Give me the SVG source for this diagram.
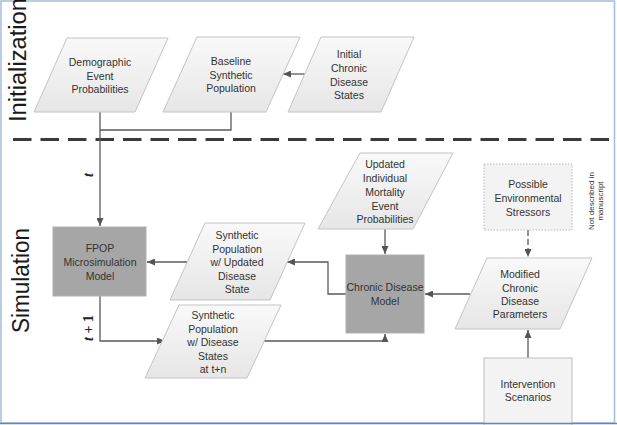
<svg xmlns="http://www.w3.org/2000/svg" width="617" height="425" viewBox="0 0 617 425">
<defs>
<linearGradient id="pg" x1="0" y1="0" x2="0" y2="1">
<stop offset="0" stop-color="#f9f9f9"/>
<stop offset="1" stop-color="#e6e6e6"/>
</linearGradient>
<marker id="ah" markerUnits="userSpaceOnUse" markerWidth="8" markerHeight="7" refX="8" refY="3.5" orient="auto">
<path d="M0,0 L8,3.5 L0,7 z" fill="#555"/>
</marker>
</defs>
<style>
.para{fill:url(#pg);stroke:#c4c4c4;stroke-width:1}
.box{fill:#a6a6a6;stroke:#b0b0b0;stroke-width:1}
.lbox{fill:#f3f3f3;stroke:#c0c0c0;stroke-width:1}
.dbox{fill:#f3f3f3;stroke:#b8b8b8;stroke-width:1;stroke-dasharray:1.5 1.5}
.t{font-family:"Liberation Sans",Arial,sans-serif;font-size:10.5px;fill:#333333;text-anchor:middle}
.big{font-family:"Liberation Sans",Arial,sans-serif;font-size:23px;fill:#1a1a1a}
.c{fill:none;stroke:#5a5a5a;stroke-width:1.3}
.lab{font-family:"Liberation Serif","Times New Roman",serif;font-size:14px;font-weight:bold;fill:#222;text-anchor:middle}
</style>
<rect x="0" y="0" width="617" height="425" fill="#ffffff"/>
<rect x="1" y="1" width="613.5" height="422" fill="none" stroke="#a4bbdb" stroke-width="1.5"/>

<g id="section-labels">
<text class="big" transform="translate(26,122) rotate(-90)" textLength="124" lengthAdjust="spacingAndGlyphs">Initialization</text>
<text class="big" transform="translate(28.5,333) rotate(-90)" textLength="105" lengthAdjust="spacingAndGlyphs">Simulation</text>
</g>

<line id="divider" x1="13" y1="139.5" x2="617" y2="139.5" stroke="#3a3a3a" stroke-width="3" stroke-dasharray="18.5 9"/>

<g id="connectors">
<path class="c" d="M100,112 V226" marker-end="url(#ah)"/>
<path class="c" d="M100,130 H231 V112"/>
<path class="c" d="M305,74 H283" marker-end="url(#ah)"/>
<path class="c" d="M187,262 H147" marker-end="url(#ah)"/>
<path class="c" d="M346,294 H328 V262 H287" marker-end="url(#ah)"/>
<path class="c" d="M100,296 V341 H165" marker-end="url(#ah)"/>
<path class="c" d="M263,341 H385 V334" marker-end="url(#ah)"/>
<path class="c" d="M385,229 V254" marker-end="url(#ah)"/>
<path class="c" d="M470,294 H425" marker-end="url(#ah)"/>
<path class="c" d="M528,230 V257" stroke-dasharray="6 3" marker-end="url(#ah)"/>
<path class="c" d="M528,358 V330" marker-end="url(#ah)"/>
<text class="lab" transform="translate(93,175) rotate(-90)"><tspan font-style="italic">t</tspan></text>
<text class="lab" transform="translate(93,328) rotate(-90)"><tspan font-style="italic">t</tspan> + 1</text>
</g>

<g id="demographic">
<polygon class="para" points="67,38 168,38 135,112 34,112"/>
<text class="t"><tspan x="100" y="66">Demographic</tspan><tspan x="100" y="80">Event</tspan><tspan x="100" y="93">Probabilities</tspan></text>
</g>
<g id="baseline">
<polygon class="para" points="197,37 300,37 266,112 163,112"/>
<text class="t"><tspan x="231" y="65">Baseline</tspan><tspan x="231" y="78.5">Synthetic</tspan><tspan x="231" y="92">Population</tspan></text>
</g>
<g id="initial">
<polygon class="para" points="321,37 414,37 381,112 288,112"/>
<text class="t"><tspan x="349" y="58">Initial</tspan><tspan x="349" y="72">Chronic</tspan><tspan x="349" y="86">Disease</tspan><tspan x="349" y="99">States</tspan></text>
</g>
<g id="fpop">
<rect class="box" x="53" y="227" width="93" height="69"/>
<text class="t"><tspan x="100" y="252">FPOP</tspan><tspan x="100" y="266">Microsimulation</tspan><tspan x="100" y="280">Model</tspan></text>
</g>
<g id="synth-updated">
<polygon class="para" points="205,223 305,223 270,300 170,300"/>
<text class="t"><tspan x="237" y="239">Synthetic</tspan><tspan x="237" y="252.5">Population</tspan><tspan x="237" y="266">w/ Updated</tspan><tspan x="237" y="279.5">Disease</tspan><tspan x="237" y="293">State</tspan></text>
</g>
<g id="synth-tn">
<polygon class="para" points="179,305 281,305 247,378 145,378"/>
<text class="t"><tspan x="213" y="319">Synthetic</tspan><tspan x="213" y="332.5">Population</tspan><tspan x="213" y="346">w/ Disease</tspan><tspan x="213" y="359.5">States</tspan><tspan x="213" y="373">at t+n</tspan></text>
</g>
<g id="updated-mortality">
<polygon class="para" points="360,153 453,153 413,229 318,229"/>
<text class="t"><tspan x="385" y="168">Updated</tspan><tspan x="385" y="182">Individual</tspan><tspan x="385" y="196">Mortality</tspan><tspan x="385" y="209.5">Event</tspan><tspan x="385" y="223">Probabilities</tspan></text>
</g>
<g id="chronic-model">
<rect class="box" x="346" y="255" width="78" height="78"/>
<text class="t"><tspan x="385" y="291">Chronic Disease</tspan><tspan x="385" y="305">Model</tspan></text>
</g>
<g id="environmental">
<rect class="dbox" x="484" y="164" width="88" height="66"/>
<text class="t"><tspan x="528" y="188">Possible</tspan><tspan x="528" y="202">Environmental</tspan><tspan x="528" y="216">Stressors</tspan></text>
</g>
<g id="note">
<text class="t" style="font-size:8px" transform="translate(593.5,201) rotate(-90)"><tspan x="0" y="0">Not described in</tspan><tspan x="0" y="9">manuscript</tspan></text>
</g>
<g id="modified">
<polygon class="para" points="487,258 592,258 560,329 455,329"/>
<text class="t"><tspan x="520" y="278">Modified</tspan><tspan x="520" y="291.5">Chronic</tspan><tspan x="520" y="305">Disease</tspan><tspan x="520" y="318">Parameters</tspan></text>
</g>
<g id="intervention">
<rect class="lbox" x="484" y="358" width="88" height="70"/>
<text class="t"><tspan x="528" y="388">Intervention</tspan><tspan x="528" y="401">Scenarios</tspan></text>
</g>
<line x1="0" y1="423.5" x2="617" y2="423.5" stroke="#5d86c2" stroke-width="1.5"/>
</svg>
